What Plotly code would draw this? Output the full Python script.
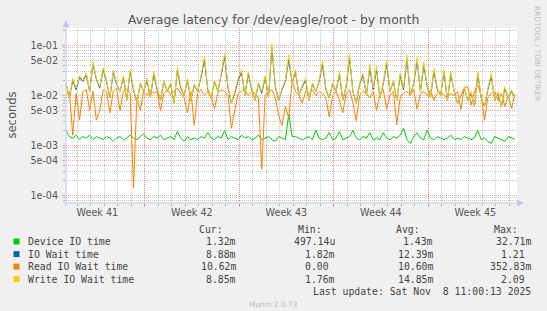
import plotly.graph_objects as go
from datetime import datetime, timedelta

# ---------------- data (milliseconds, one sample every 6 h) ----------------
start_time = datetime(2025, 10, 6, 4, 20)
step_hours = 6

device_ms = [2.0, 1.5, 1.4, 1.6, 1.3, 1.5, 1.4, 1.6, 1.3, 1.5, 1.4, 1.3, 1.5, 1.4, 1.2, 1.4, 1.5, 1.3, 1.4, 1.6,
             1.4, 1.3, 1.5, 1.7, 1.4, 1.3, 1.5, 1.4, 1.6, 1.3, 1.4, 1.5, 1.3, 1.9, 1.4, 1.2, 1.5, 1.3, 1.4, 1.3,
             1.5, 1.4, 1.8, 1.4, 1.3, 1.5, 1.4, 2.0, 1.3, 1.5, 1.4, 1.3, 1.6, 1.4, 1.5, 1.3, 1.4, 1.6, 1.3, 1.4,
             1.5, 1.3, 1.2, 1.5, 1.4, 1.3, 4.2, 1.5, 1.5, 1.4, 1.3, 1.4, 1.5, 1.3, 2.0, 1.4, 1.3, 1.4, 1.8, 1.3,
             1.4, 1.9, 1.3, 1.4, 1.5, 2.0, 1.4, 1.3, 1.5, 1.4, 1.8, 1.3, 1.4, 1.3, 1.8, 1.4, 1.3, 1.5, 1.4, 1.6,
             2.2, 1.3, 1.1, 1.5, 1.8, 1.4, 1.3, 2.0, 1.4, 1.3, 1.5, 1.4, 1.3, 1.4, 1.6, 1.3, 1.4, 1.3, 1.5, 1.4,
             1.3, 1.4, 2.0, 1.3, 1.4, 1.2, 1.1, 1.5, 1.4, 1.3, 1.2, 1.5, 1.4, 1.32]

iowait_ms = [17, 9, 20, 13, 23, 19, 26, 12, 42, 21, 14, 33, 19, 9, 29, 17, 12, 23, 8, 30,
             13, 7, 17, 12, 20, 9, 27, 13, 8, 19, 12, 17, 7, 32, 14, 10, 20, 8, 16, 12,
             23, 52, 13, 9, 19, 12, 26, 60, 14, 7, 11, 20, 29, 10, 27, 13, 8, 17, 11, 23,
             9, 90, 15, 8, 13, 19, 52, 18, 29, 10, 15, 20, 8, 17, 12, 19, 42, 13, 9, 17,
             12, 27, 8, 15, 56, 12, 7, 17, 25, 10, 36, 13, 33, 9, 17, 43, 12, 19, 8, 25,
             13, 54, 10, 17, 49, 12, 40, 15, 9, 31, 13, 10, 29, 8, 27, 12, 7, 10, 14, 8,
             11, 6, 27, 9, 6, 13, 25, 8, 11, 6, 14, 9, 12, 8.88]

read_ms = [10, 12, 1.6, 11, 3.2, 12, 13, 5, 12, 3.2, 5, 13, 12, 4.5, 12, 14, 5, 12, 13, 11,
           0.14, 9, 5, 12, 10, 13, 11, 12, 5, 11, 13, 10, 12, 14, 11, 9, 4.5, 12, 2.5, 11,
           13, 10, 12, 9, 5.5, 11, 13, 12, 10, 2.2, 5, 11, 12, 13, 10, 12, 11, 9, 0.33, 10,
           12, 13, 9, 4, 2.5, 6, 3.5, 20, 12, 10, 7, 12, 11, 13, 10, 12, 11, 9, 3.7, 10,
           12, 8, 4.5, 11, 13, 7, 3.1, 10, 12, 11, 9, 12, 5, 11, 13, 5.3, 10, 12, 2.6, 9,
           11, 12, 10, 13, 5.3, 11, 12, 10, 13, 8, 11, 12, 10, 9, 11, 10, 12, 5.3, 14, 15,
           6.3, 12, 16, 10, 3.2, 9, 11, 12, 8, 11, 6, 10, 5.5, 10.62]

write_ms = [18, 9, 22, 14, 25, 20, 28, 12, 47, 22, 15, 36, 20, 9, 32, 18, 12, 25, 8, 33,
            14, 7, 18, 12, 22, 9, 30, 14, 8, 20, 12, 18, 7, 36, 15, 10, 22, 8, 17, 12,
            25, 61, 14, 9, 20, 12, 28, 71, 15, 7, 12, 22, 33, 10, 30, 14, 8, 18, 12, 25,
            9, 110, 16, 8, 14, 20, 64, 18, 33, 10, 16, 22, 8, 18, 12, 20, 49, 14, 9, 18,
            12, 30, 8, 16, 67, 12, 7, 18, 28, 10, 42, 14, 38, 9, 18, 50, 12, 20, 8, 28,
            14, 64, 10, 18, 58, 12, 47, 16, 9, 35, 14, 10, 33, 8, 30, 12, 7, 10, 15, 8,
            12, 6, 30, 9, 6, 14, 28, 8, 12, 6, 15, 9, 13, 8.85]

series_names = ["Device IO time", "IO Wait time", "Read IO Wait time", "Write IO Wait time"]
series_colors = ["#00CC00", "#0066B3", "#FF8000", "#FFCC00"]
series_data = [device_ms, iowait_ms, read_ms, write_ms]

cur_vals = ["1.32m", "8.88m", "10.62m", "8.85m"]
min_vals = ["497.14u", "1.82m", "0.00", "1.76m"]
avg_vals = ["1.43m", "12.39m", "10.60m", "14.85m"]
max_vals = ["32.71m", "1.21", "352.83m", "2.09"]

week_labels = ["Week 41", "Week 42", "Week 43", "Week 44", "Week 45"]
week_starts = [datetime(2025, 10, 5), datetime(2025, 10, 12), datetime(2025, 10, 19),
               datetime(2025, 10, 26), datetime(2025, 11, 2)]
y_major = [1e-4, 5e-4, 1e-3, 5e-3, 1e-2, 5e-2, 1e-1]
y_major_text = ["1e-04", "5e-04", "1e-03", "5e-03", "1e-02", "5e-02", "1e-01"]

x_range = [datetime(2025, 10, 6, 4, 19), datetime(2025, 11, 8, 14, 2)]
y_log_range = [-4.154, -0.65]

# ---------------- layout geometry (pixels) ----------------
W, H = 547, 311
PL, PR, PT, PB = 66, 517, 28, 203


def px_x(x):
    return (x - PL) / (PR - PL)


def px_y(y):
    return (PB - y) / (PB - PT)


times = [start_time + timedelta(hours=step_hours * i) for i in range(len(device_ms))]
week_mid = [w + timedelta(days=3, hours=12) for w in week_starts]
days = []
d = datetime(2025, 10, 7)
while d <= datetime(2025, 11, 8):
    days.append(d)
    d += timedelta(days=1)
y_minor = []
for k in range(-5, 0):
    for m in [2, 3, 4, 6, 7, 8, 9]:
        y_minor.append(m * 10 ** k)

fig = go.Figure()
for name, color, vals in zip(series_names, series_colors, series_data):
    fig.add_trace(go.Scatter(x=times, y=[v / 1000 for v in vals], mode="lines", name=name,
                             line=dict(color=color, width=1), showlegend=False, hoverinfo="skip"))
# helper trace carrying the week-boundary axis
fig.add_trace(go.Scatter(x=week_starts, y=[None] * len(week_starts), xaxis="x2",
                         showlegend=False, hoverinfo="skip", mode="lines"))

GRID_MINOR = "rgba(150,150,150,0.55)"
GRID_MAJOR = "rgba(235,90,70,0.5)"
TXT = "#555555"

fig.update_layout(
    width=W, height=H,
    margin=dict(l=PL, r=W - PR, t=PT, b=H - PB, autoexpand=False),
    paper_bgcolor="#F0F0F0", plot_bgcolor="#FFFFFF",
    font=dict(family="DejaVu Sans", color=TXT, size=10),
    xaxis=dict(type="date", range=x_range, tickmode="array", tickvals=week_mid, ticktext=week_labels,
               showgrid=False, ticks="", showline=False, zeroline=False,
               tickfont=dict(family="DejaVu Sans", size=9.6, color=TXT), ticklabelstandoff=2,
               minor=dict(tickmode="array", tickvals=days, showgrid=True, gridcolor=GRID_MINOR,
                          griddash="1px,1px", gridwidth=1, ticks="outside", ticklen=2,
                          tickcolor="rgba(150,150,150,0.7)")),
    xaxis2=dict(type="date", range=x_range, overlaying="x", anchor="y", side="bottom",
                tickmode="array", tickvals=week_starts, showticklabels=False,
                showgrid=True, gridcolor=GRID_MAJOR, griddash="1px,1px", gridwidth=1,
                ticks="outside", ticklen=3, tickcolor=GRID_MAJOR, showline=False, zeroline=False),
    yaxis=dict(type="log", range=y_log_range, tickmode="array", tickvals=y_major, ticktext=y_major_text,
               showgrid=True, gridcolor=GRID_MAJOR, griddash="1px,1px", gridwidth=1,
               ticks="outside", ticklen=3, tickcolor=GRID_MAJOR, showline=False, zeroline=False,
               tickfont=dict(family="DejaVu Sans", size=9.6, color=TXT), ticklabelstandoff=2,
               minor=dict(tickmode="array", tickvals=y_minor, showgrid=True, gridcolor=GRID_MINOR,
                          griddash="1px,1px", gridwidth=1, ticks="outside", ticklen=2,
                          tickcolor="rgba(150,150,150,0.7)")),
    showlegend=False,
)

AXC = "#C4C4F4"
shapes = [
    dict(type="line", xref="paper", yref="paper", x0=0, x1=0, y0=px_y(206), y1=px_y(24),
         line=dict(color=AXC, width=1)),
    dict(type="line", xref="paper", yref="paper", x0=px_x(63), x1=px_x(519), y0=0, y1=0,
         line=dict(color=AXC, width=1)),
    dict(type="path", xref="paper", yref="paper",
         path=f"M {px_x(62.5)},{px_y(27)} L {px_x(69.5)},{px_y(27)} L {px_x(66)},{px_y(20)} Z",
         fillcolor=AXC, line=dict(width=0)),
    dict(type="path", xref="paper", yref="paper",
         path=f"M {px_x(517)},{px_y(199.5)} L {px_x(517)},{px_y(206.5)} L {px_x(524)},{px_y(203)} Z",
         fillcolor=AXC, line=dict(width=0)),
]

annotations = []


def add_text(text, x, y, xanchor="left", size=9.8, family="DejaVu Sans Mono", color="#444444", angle=0):
    annotations.append(dict(text=text, x=px_x(x), y=px_y(y), xref="paper", yref="paper",
                            xanchor=xanchor, yanchor="middle", showarrow=False, textangle=angle,
                            font=dict(family=family, size=size, color=color)))


add_text("Average latency for /dev/eagle/root - by month", 273.5, 20, xanchor="center",
         size=12.4, family="DejaVu Sans", color="#555555")
add_text("seconds", 11, 115.5, xanchor="center", size=11.5, family="DejaVu Sans", color="#555555", angle=-90)
add_text("RRDTOOL / TOBI OETIKER", 538, 53, xanchor="center", size=7.4, family="DejaVu Sans",
         color="#BBBBBB", angle=90)

col_ends = [238, 336.7, 435, 533]
headers = ["Cur:", "Min:", "Avg:", "Max:"]
for h, xe in zip(headers, col_ends):
    add_text(h, xe - 12.6, 229, xanchor="right")

row_y = [241.5, 254.1, 266.6, 279.2]


def fmt(v):
    return v if v[-1].isalpha() else v + "\u00a0"


for i, (name, color) in enumerate(zip(series_names, series_colors)):
    yy = row_y[i]
    shapes.append(dict(type="rect", xref="paper", yref="paper",
                       x0=px_x(13.5), x1=px_x(19.5), y0=px_y(yy + 3), y1=px_y(yy - 3),
                       fillcolor=color, line=dict(width=0)))
    add_text(name, 26, yy)
    for vals, xe in zip([cur_vals, min_vals, avg_vals, max_vals], col_ends):
        add_text(fmt(vals[i]), xe, yy, xanchor="right")

add_text("Last update: Sat Nov\u00a0\u00a08 11:00:13 2025", 533, 291.8, xanchor="right")
add_text("Munin 2.0.73", 273, 304.7, xanchor="center", size=7.4, family="DejaVu Sans", color="#BBBBBB")

fig.update_layout(shapes=shapes, annotations=annotations)
fig.write_html("out.html", config={"displayModeBar": False})
